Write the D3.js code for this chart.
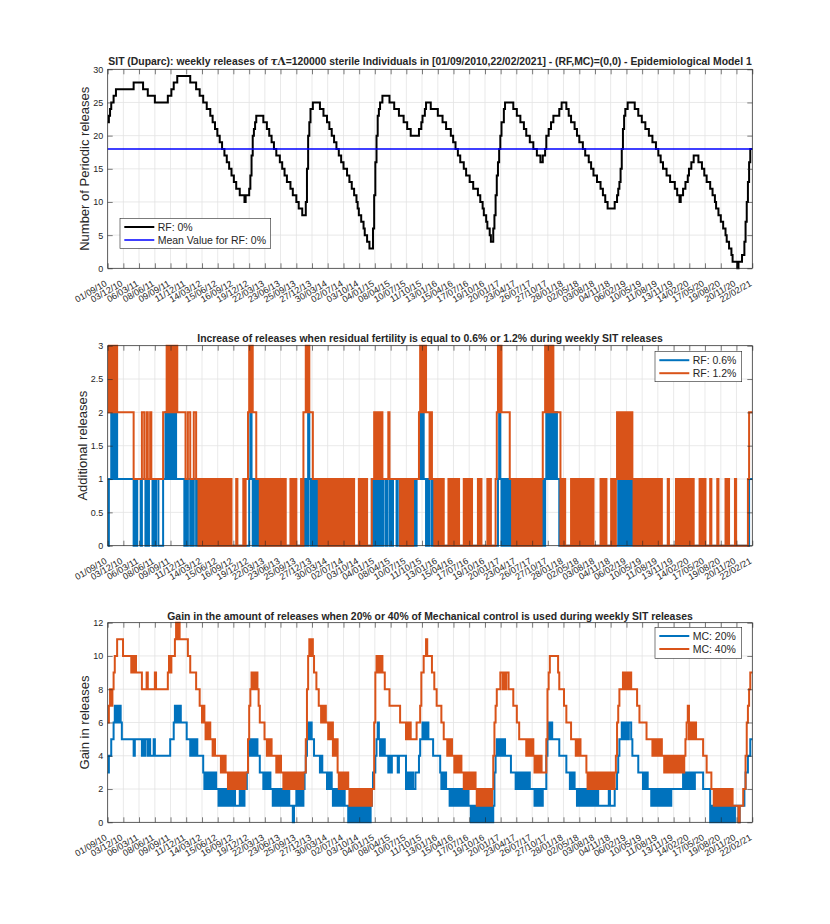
<!DOCTYPE html>
<html>
<head>
<meta charset="utf-8">
<script src="https://cdn.jsdelivr.net/npm/d3@7"></script>
<style>
  body { margin: 0; background: #fff; }
  text { font-family: "Liberation Sans", Arial, Helvetica, sans-serif; fill: #262626; }
</style>
</head>
<body>
<svg id="chart" width="830" height="924"></svg>
<script>
// ---- data (week index counted from 01/09/2010) ----
const tickLabels = ["01/09/10","03/12/10","06/03/11","08/06/11","09/09/11","11/12/11","14/03/12","15/06/12",
  "16/09/12","19/12/12","22/03/13","23/06/13","25/09/13","27/12/13","30/03/14","02/07/14","03/10/14","04/01/15",
  "08/04/15","10/07/15","11/10/15","13/01/16","15/04/16","17/07/16","19/10/16","20/01/17","23/04/17","26/07/17",
  "27/10/17","28/01/18","02/05/18","03/08/18","04/11/18","06/02/19","10/05/19","11/08/19","13/11/19","14/02/20",
  "17/05/20","19/08/20","20/11/20","22/02/21"];
const nWeeks = 547;

// RF 0%: [week where the step starts, number of releases]
const rf0Steps = [[0,22],[1,23],[2,24],[3,25],[5,26],[7,27],[22,28],[30,27],[34,26],[40,25],[51,26],[54,27],[56,28],
  [59,29],[70,28],[75,27],[78,26],[81,25],[84,24],[87,23],[89,22],[91,21],[93,20],[95,19],[97,18],[99,17],[101,16],
  [103,15],[105,14],[107,13],[109,12],[112,11],[116,10],[117,11],[120,12],[121,14],[122,17],[123,20],[124,21],[125,22],
  [126,23],[132,22],[135,21],[137,20],[139,19],[141,18],[143,17],[146,16],[148,15],[150,14],[152,13],[155,12],[157,11],
  [160,10],[162,9],[165,8],[168,10],[169,15],[170,20],[171,22],[172,24],[174,25],[180,24],[183,23],[186,22],[188,21],
  [190,20],[192,19],[194,18],[196,17],[198,16],[200,15],[203,14],[205,13],[207,12],[209,11],[211,10],[212,9],[213,8],
  [215,7],[217,6],[218,5],[220,4],[222,3],[225,6],[226,11],[227,16],[228,20],[229,23],[230,24],[231,25],[233,26],
  [239,25],[243,24],[247,23],[251,22],[254,21],[257,20],[264,21],[266,22],[267,23],[269,24],[270,25],[274,24],[280,23],
  [284,22],[287,21],[291,20],[293,19],[295,18],[297,17],[299,16],[302,15],[304,14],[307,13],[310,12],[314,11],[316,10],
  [318,9],[319,8],[321,7],[322,6],[324,5],[325,4],[327,6],[328,8],[329,11],[330,14],[331,16],[332,18],[333,20],[334,22],
  [336,24],[337,25],[344,24],[347,23],[350,22],[353,21],[355,20],[358,19],[361,18],[364,17],[367,16],[369,17],[371,18],
  [372,20],[374,21],[376,22],[378,23],[383,24],[385,25],[389,24],[391,23],[393,22],[396,21],[398,20],[400,19],[403,18],
  [405,17],[408,16],[410,15],[412,14],[415,13],[418,12],[420,11],[422,10],[424,9],[430,10],[432,11],[433,12],[434,13],
  [435,15],[436,18],[437,21],[438,23],[439,24],[441,25],[447,24],[450,23],[453,22],[456,21],[459,20],[462,19],[465,18],
  [467,17],[469,16],[471,15],[474,14],[477,13],[481,12],[483,11],[485,10],[486,11],[488,12],[490,13],[492,14],[493,15],
  [495,16],[497,17],[501,16],[504,15],[506,14],[508,13],[511,12],[513,11],[515,10],[516,9],[518,8],[520,7],[522,6],
  [524,5],[525,4],[527,3],[529,2],[530,1],[534,0],[535,1],[538,2],[540,4],[541,7],[542,10],[543,13],[544,16],[545,18]];
const rf0Mean = 18;

// weekly runs: "week:values" -> one base-36 digit per week from that week on, last digit held
const rf06Weekly = "0:0 1:1 3:21212 8:1 22:0101 26:1 28:01 30:1 32:0101 36:1 38:010 41:1 43:0 47:1 49:2121212121 " +
  "59:1 65:0101 69:1 70:0101 74:1 75:01 77:0 119:0101 121:2 122:1010101 129:0 166:1010 170:2 171:1 172:0101010 179:0 " +
  "224:1 225:010101010 234:1 236:0 237:1 239:0 240:1 241:0 242:1 245:0 246:1 248:0 259:0101 263:1 265:2121 269:1 " +
  "270:0101 274:1 275:01 277:0 330:01 332:2 333:1010101010 343:0 368:0101 372:2121212121 382:1010 386:0 " +
  "432:01010101010101 446:0 544:1";
const rf12Weekly = "0:2 1:32323232 9:2 22:1 29:2 31:1 33:2 34:1 36:2 37:1 47:2 50:323232323 59:2 66:1 68:2 70:1 73:2 75:1 " +
  "77:0101010101010101010101010101 105:000 108:010 111:000 114:0101 118:1 119:2 120:323 123:2 126:1 " +
  "129:0101010101010101010101 151:000 154:010101 160:000 163:010 166:2 168:3232 172:2 174:1 " +
  "179:010101010101010101010101010101 209:000 212:01010101 220:000 223:01 225:121212121 234:1 238:2 239:1 " +
  "248:010101010101 260:1 264:2 265:32323 270:2 272:212 275:1 277:01010101 285:000 288:0101010101 298:000 " +
  "301:010101010 310:000 313:0101 317:0000 321:0101 325:000 328:01 330:2 331:323 334:2 341:1 " +
  "343:0101010101010101010101010 368:1 369:2 371:3232323 378:2 384:01010 389:000 392:010101010101010101010 " +
  "413:0000 417:010101 423:000 426:010101 432:2121212121212 445:1 446:0101010101010101010101010 471:000 474:010 " +
  "477:0000 481:0101010101010101 497:0000 501:010101 507:000 510:010 513:000 516:010 519:0000 523:01010 528:000 " +
  "531:01 533:0 543:1 544:2";
const mc20Weekly = "0:3 1:4 3:5 5:676767 11:6 12:5 22:4 23:5 29:4 30:5 31:4 32:5 34:4 35:5 36:4 39:5 40:4 53:5 56:676767 " +
  "62:6 67:5 70:4545454 77:4 81:3 82:2323232323 92:2 94:12121212121212 108:1 112:2121 116:2 118:3 119:4 120:5454545 " +
  "127:4 129:3 132:2323232 139:2 140:121212121212121 155:1 157:0 158:1 160:2121212 167:3 168:4 169:5 170:656 173:5 " +
  "175:4 180:343 183:3 186:2323 190:2 191:1212121212 201:1 204:0101010101010101010 223:1 224:2 225:3 227:4 228:5 " +
  "229:6 230:54545 235:4 238:3434 242:4 246:3 247:4 253:2323232 260:2 261:3 264:4 265:5 266:565656 272:5 276:4 " +
  "282:3 283:23232 288:2 290:12121212121212121 307:1 308:0101010101010101010 327:1 328:3 329:4 330:5 331:4545454 " +
  "338:4 342:3 346:232323232323 358:2 362:1212121 369:2 372:4 373:5 374:6565 378:5 383:4 389:3 392:23232 397:2 " +
  "398:1212121212121212121 417:1 425:2 426:1 430:2 432:3 433:4 434:5 436:6565656 444:5 445:4 450:3 454:23232 459:2 " +
  "461:121212121212121212 479:2 488:3 489:2323232323 499:3 505:2 511:010101010101010101010 532:1 535:0 536:1 " +
  "540:2 541:3 543:4 545:5";
const mc40Weekly = "0:6 1:7878 5:9 6:a 8:b 13:a 20:9a9a9 25:9 29:8 33:9 34:8 40:9 41:8 51:9a9a 55:a 57:b 58:cbcb 62:b " +
  "68:a 70:9 75:8 78:7 80:676 83:56565 88:5454 92:4 95:434343 101:32323232323232323 118:3 119:5 120:7 121:8 " +
  "122:98989 127:8 128:7 129:6 133:5 135:45454 140:4 143:3434 147:3 149:232323232323232323 167:3 168:5 169:8 170:a " +
  "171:bab 174:a 175:9 177:8 179:7 181:67676 186:6 187:5656 191:4545 195:3 196:232323232 205:1212121212121212121 " +
  "224:2 226:6 227:9 228:a9a9a 233:9 235:8 239:7 248:6 253:56565 258:5 262:6 265:7 266:9 268:a 270:b 271:a 275:9 " +
  "277:8 279:7 283:6 285:5 288:4545 292:4 294:343434 300:3 302:2323232323 312:2 313:1212121212121 326:2 327:4 " +
  "328:6 329:7 330:8 333:9 335:8989 339:9 340:8 344:7 347:6 349:5 355:4545454 362:3434343 369:3 372:5 373:8 374:9 " +
  "375:a 382:9 383:8 387:7 389:6 393:5 397:45454 402:4 406:3 407:23232323232323232323232 430:3 431:4 432:6 433:7 " +
  "434:8 437:98989898 445:8 449:7 451:6 457:5 462:45454545 470:4 472:34343434343434343 489:4 490:5 491:6 492:7 " +
  "493:565656 499:5 505:4 508:3 512:2 514:12121212121212121 532:1 535:0 536:1 539:2 541:4 542:6 543:7 544:8 545:9";

const blue = "#0072BD", orange = "#D95319";

// ---- helpers ----
function expandSteps(steps, n) {
  const out = [];
  steps.forEach(([w, v], i) => {
    const end = i + 1 < steps.length ? steps[i + 1][0] : n;
    for (let k = w; k < end; k++) out[k] = v;
  });
  return out;
}
function expandWeekly(spec, n) {
  const toks = spec.trim().split(/\s+/).map(t => { const [w, s] = t.split(":"); return [+w, s]; });
  const out = [];
  toks.forEach(([w, s], i) => {
    const end = i + 1 < toks.length ? toks[i + 1][0] : n;
    for (let k = w; k < end; k++) out[k] = parseInt(s[Math.min(k - w, s.length - 1)], 36);
  });
  return out;
}

const parseTick = d3.timeParse("%d/%m/%y");
const tickDates = tickLabels.map(parseTick);
const startDate = tickDates[0], endDate = tickDates[tickDates.length - 1];
const weekDate = w => d3.timeDay.offset(startDate, 7 * w);

function toPoints(vals) {
  const pts = vals.map((v, i) => ({date: weekDate(i), v}));
  pts.push({date: endDate, v: vals[vals.length - 1]});
  return pts;
}

const svg = d3.select("#chart");
const left = 107.7, right = 752.3;
const x = d3.scaleTime().domain([startDate, endDate]).range([left, right]);

function drawPanel(cfg) {
  const g = svg.append("g");
  const y = d3.scaleLinear().domain(cfg.yDomain).range([cfg.bottom, cfg.top]);
  const h = cfg.bottom - cfg.top;

  // grid
  g.append("g").selectAll("line").data(tickDates).join("line")
    .attr("x1", d => x(d)).attr("x2", d => x(d)).attr("y1", cfg.top).attr("y2", cfg.bottom)
    .attr("stroke", "#e3e3e3").attr("stroke-width", 0.8);
  g.append("g").selectAll("line").data(cfg.yTicks).join("line")
    .attr("x1", left).attr("x2", right).attr("y1", d => y(d)).attr("y2", d => y(d))
    .attr("stroke", "#e3e3e3").attr("stroke-width", 0.8);

  // series
  const line = d3.line().x(d => x(d.date)).y(d => y(d.v)).curve(d3.curveStepAfter);
  cfg.series.forEach(s => {
    g.append("path").datum(toPoints(s.values))
      .attr("fill", "none").attr("stroke", s.color).attr("stroke-width", s.width)
      .attr("d", line);
  });

  // axes, ticks inward on all four sides
  const axB = g.append("g").attr("transform", `translate(0,${cfg.bottom})`)
    .call(d3.axisBottom(x).tickValues(tickDates).tickFormat((d, i) => tickLabels[i])
      .tickSizeInner(-5).tickSizeOuter(0));
  axB.selectAll("text")
    .attr("x", 0).attr("y", 0).attr("dy", 0)
    .attr("text-anchor", "end")
    .attr("transform", "translate(-0.5,17) rotate(-30)");
  g.append("g").attr("transform", `translate(0,${cfg.top})`)
    .call(d3.axisTop(x).tickValues(tickDates).tickFormat("").tickSizeInner(-5).tickSizeOuter(0));
  g.append("g").attr("transform", `translate(${left},0)`)
    .call(d3.axisLeft(y).tickValues(cfg.yTicks).tickFormat(d3.format("~g")).tickSizeInner(-5).tickSizeOuter(0).tickPadding(4.5));
  g.append("g").attr("transform", `translate(${right},0)`)
    .call(d3.axisRight(y).tickValues(cfg.yTicks).tickFormat("").tickSizeInner(-5).tickSizeOuter(0));
  g.selectAll(".domain").remove();
  g.selectAll(".tick line").attr("stroke", "#262626").attr("stroke-width", 0.6);
  g.selectAll(".tick text").attr("font-size", 9).attr("fill", "#262626")
    .attr("font-family", "Liberation Sans, Arial, sans-serif");

  g.append("rect").attr("x", left).attr("y", cfg.top).attr("width", right - left).attr("height", h)
    .attr("fill", "none").attr("stroke", "#262626").attr("stroke-width", 0.7);

  // y label
  g.append("text")
    .attr("transform", `translate(${cfg.ylabelX},${cfg.top + h / 2}) rotate(-90)`)
    .attr("text-anchor", "middle").attr("font-size", 13).text(cfg.ylabel);

  // title
  const t = g.append("text").attr("x", (left + right) / 2).attr("y", cfg.titleY)
    .attr("text-anchor", "middle").attr("font-size", 10.4).attr("font-weight", "bold").attr("fill", "#000");
  cfg.title(t);

  // legend
  const L = cfg.legend;
  g.append("rect").attr("x", L.x).attr("y", L.y).attr("width", L.w).attr("height", L.h)
    .attr("fill", "#fff").attr("stroke", "#262626").attr("stroke-width", 0.6);
  L.items.forEach((it, i) => {
    const ry = L.y + 8.7 + i * 13;
    g.append("line").attr("x1", L.x + 4.3).attr("x2", L.x + 34.3).attr("y1", ry).attr("y2", ry)
      .attr("stroke", it.color).attr("stroke-width", it.width);
    g.append("text").attr("x", L.x + 37.7).attr("y", ry).attr("dy", "0.35em")
      .attr("font-size", 10.5).text(it.label);
  });
}

const rf0 = expandSteps(rf0Steps, nWeeks);

drawPanel({
  top: 69.3, bottom: 268.3, yDomain: [0, 30], yTicks: [0, 5, 10, 15, 20, 25, 30],
  ylabel: "Number of Periodic releases", ylabelX: 88.5, titleY: 64.5,
  title: t => {
    t.append("tspan").text("SIT (Duparc): weekly releases of ");
    t.append("tspan").attr("font-family", "DejaVu Serif, serif").attr("font-style", "italic").text("\u03C4");
    t.append("tspan").attr("font-family", "DejaVu Serif, serif").text("\u039B");
    t.append("tspan").text("=120000 sterile Individuals in [01/09/2010,22/02/2021] - (RF,MC)=(0,0) - Epidemiological Model 1");
  },
  series: [
    {values: rf0, color: "#000", width: 2},
    {values: rf0.map(() => rf0Mean), color: "#0000FF", width: 1.5}
  ],
  legend: {x: 120, y: 218.3, w: 150.7, h: 30, items: [
    {label: "RF: 0%", color: "#000", width: 2},
    {label: "Mean Value for RF: 0%", color: "#0000FF", width: 1.5}
  ]}
});

drawPanel({
  top: 345.7, bottom: 545.7, yDomain: [0, 3], yTicks: [0, 0.5, 1, 1.5, 2, 2.5, 3],
  ylabel: "Additional releases", ylabelX: 86.5, titleY: 342,
  title: t => t.text("Increase of releases when residual fertility is equal to 0.6% or 1.2% during weekly SIT releases"),
  series: [
    {values: expandWeekly(rf06Weekly, nWeeks), color: blue, width: 2},
    {values: expandWeekly(rf12Weekly, nWeeks), color: orange, width: 2}
  ],
  legend: {x: 655, y: 351.5, w: 86.7, h: 30.2, items: [
    {label: "RF: 0.6%", color: blue, width: 2},
    {label: "RF: 1.2%", color: orange, width: 2}
  ]}
});

drawPanel({
  top: 622.7, bottom: 822.3, yDomain: [0, 12], yTicks: [0, 2, 4, 6, 8, 10, 12],
  ylabel: "Gain in releases", ylabelX: 88.5, titleY: 619.5,
  title: t => t.text("Gain in the amount of releases when 20% or 40% of Mechanical control is used during weekly SIT releases"),
  series: [
    {values: expandWeekly(mc20Weekly, nWeeks), color: blue, width: 2},
    {values: expandWeekly(mc40Weekly, nWeeks), color: orange, width: 2}
  ],
  legend: {x: 655, y: 627.3, w: 86.7, h: 31, items: [
    {label: "MC: 20%", color: blue, width: 2},
    {label: "MC: 40%", color: orange, width: 2}
  ]}
});
</script>
</body>
</html>
